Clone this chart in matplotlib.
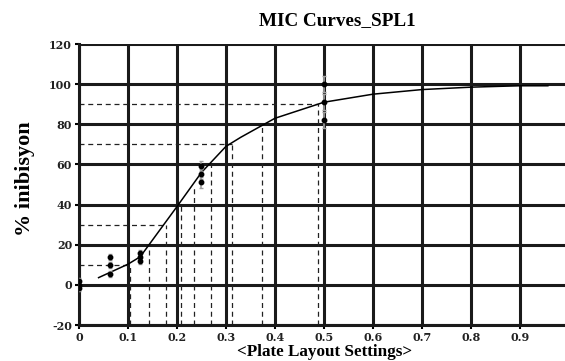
import numpy as np
import matplotlib
matplotlib.use("Agg")
import matplotlib.pyplot as plt
from matplotlib.pyplot import MultipleLocator

plt.rcParams['font.family'] = ['Liberation Serif', 'DejaVu Serif']
plt.rcParams['axes.unicode_minus'] = False

# fitted curve
curve_x = [0.04, 0.1, 0.125, 0.2, 0.25, 0.3, 0.33, 0.4, 0.5, 0.6, 0.7, 0.8, 0.9, 0.957]
curve_y = [3.6, 10.3, 14, 39, 56, 69, 73.5, 83, 91, 95, 97.3, 98.5, 99.2, 99.2]

# replicate measurements
dose_x = [0, 0.0625, 0.125, 0.25, 0.5]
rep1 = [2, 14, 16, 59, 100]
rep2 = [0, 10, 14, 55, 91]
rep3 = [-1.5, 5.5, 12, 51, 82]
err = [1.5, 1.5, 1.5, 2.5, 4]

# inhibition levels and the concentrations where the curve crosses them
levels = [10, 20, 30, 40, 50, 60, 70, 80, 90]
level_x = [0.104, 0.1435, 0.1776, 0.209, 0.235, 0.269, 0.313, 0.374, 0.488]
h_levels = [10, 30, 70, 90]

fig = plt.figure(figsize=(5.65, 3.61), dpi=100)
ax = fig.add_axes([0.1398, 0.0997, 0.8602, 0.7784])

# dashed guide lines
for lv, lx in zip(levels, level_x):
    ax.plot([lx, lx], [-20, lv], linestyle=(0, (4, 3)), color='#222222', linewidth=0.9, zorder=2)
    if lv in h_levels:
        ax.plot([0, lx], [lv, lv], linestyle=(0, (4, 3)), color='#222222', linewidth=0.9, zorder=2)

ax.plot(curve_x, curve_y, color='black', linewidth=1.1, zorder=4)

for reps in (rep1, rep2, rep3):
    ax.errorbar(dose_x, reps, yerr=err, fmt='o', color='black', markersize=3.2,
                ecolor='#a0a0a0', elinewidth=1.2, capsize=1.5, zorder=5)

ax.set_xlim(0, 0.992)
ax.set_ylim(-20, 120)
ax.yaxis.set_major_locator(MultipleLocator(20))
ax.set_xticks(np.arange(0, 1.0, 0.1))
ax.set_xticklabels(['0', '0.1', '0.2', '0.3', '0.4', '0.5', '0.6', '0.7', '0.8', '0.9'])
ax.grid(True, color='#1a1a1a', linewidth=2.2, zorder=1)
ax.set_axisbelow(True)
for s in ['top', 'right']:
    ax.spines[s].set_visible(False)
for s in ['left', 'bottom']:
    ax.spines[s].set_linewidth(2.2)
    ax.spines[s].set_color('#1a1a1a')
ax.tick_params(length=3, width=1.5, labelsize=8, pad=2)
for lab in ax.get_xticklabels() + ax.get_yticklabels():
    lab.set_fontweight('bold')
    lab.set_family('DejaVu Serif')
    lab.set_color('#222222')

fig.text(0.597, 0.942, 'MIC Curves_SPL1', ha='center', va='center', fontsize=13.8, fontweight='bold')
fig.text(0.044, 0.504, '% inibisyon', ha='center', va='center', rotation=90, fontsize=16, fontweight='bold')
fig.text(0.575, 0.024, '<Plate Layout Settings>', ha='center', va='center', fontsize=12.3, fontweight='bold')

fig.savefig('out.png', dpi=100)
